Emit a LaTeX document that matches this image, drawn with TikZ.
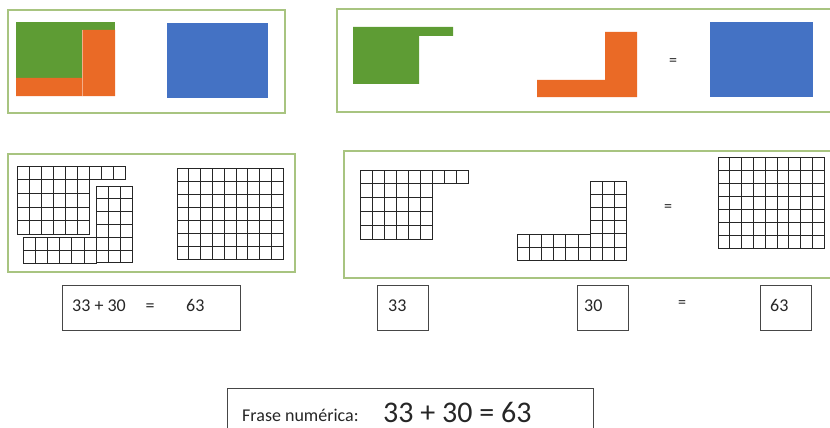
\documentclass[tikz,border=0pt]{standalone}
\usepackage{fontspec}
\setmainfont{Carlito}
\definecolor{frameg}{RGB}{168,196,128}
\definecolor{pgreen}{RGB}{94,156,52}
\definecolor{porange}{RGB}{234,106,38}
\definecolor{pblue}{RGB}{68,114,196}
\definecolor{ink}{RGB}{38,38,38}
\definecolor{boxline}{RGB}{70,70,70}
\newcommand\cellgrid[6]{%
  \foreach \i in {1,...,#3}{\foreach \j in {1,...,#4}{%
    \draw[gridline] ({#1+(\i-1)*#5},{#2+(\j-1)*#6}) rectangle ++(#5,#6);}}}
\tikzset{
  panel/.style={draw=frameg, line width=1.4pt},
  gridline/.style={draw=black!85, line width=1pt},
  numbox/.style={draw=boxline, line width=0.9pt},
  txt/.style={text=ink, font=\fontsize{18}{20}\selectfont, inner sep=0pt, anchor=base west},
  eqs/.style={text=ink, font=\fontsize{16}{18}\selectfont, inner sep=0pt},
}
\begin{document}
\begin{tikzpicture}[x=1pt,y=-1pt]
\useasboundingbox (0,0) rectangle (830,428);
% ---------- top row ----------
\draw[panel] (8,10) rectangle (285,113);
\fill[pgreen] (16,22) rectangle (115,78);
\fill[porange] (16,78) -- (82,78) -- (82,30) -- (115,30) -- (115,96) -- (16,96) -- cycle;
\draw[porange!55!white, line width=0.4pt] (82,30) -- (82,96);
\fill[pblue] (167,23) rectangle (268,98);

\draw[panel] (337,9) rectangle (840,112);
\fill[pgreen] (353,27) -- (453,27) -- (453,36) -- (419,36) -- (419,84) -- (353,84) -- cycle;
\fill[porange] (605,32) -- (637,32) -- (637,97) -- (537,97) -- (537,80) -- (605,80) -- cycle;
\node[eqs] (eqtop) at (673,62) {=};
\fill[pblue] (710,22) rectangle (813,97);

% ---------- middle row ----------
\draw[panel] (8,154) rectangle (295,272);
\cellgrid{17}{166}{9}{1}{12.1}{13.7}
\cellgrid{17}{179.7}{6}{4}{12.1}{13.7}
\cellgrid{96}{186}{3}{6}{12.3}{12.8}
\cellgrid{23}{237.2}{6}{2}{12.2}{12.9}
\cellgrid{177}{168}{9}{7}{11.8}{13.1}

\draw[panel] (344,151) rectangle (840,278);
\cellgrid{360}{170}{9}{1}{12.1}{13.8}
\cellgrid{360}{183.8}{6}{4}{12.1}{13.8}
\cellgrid{590}{181}{3}{6}{12.3}{13.2}
\cellgrid{517}{234.2}{6}{2}{12.2}{13.1}
\node[eqs] (eqmid) at (668,208) {=};
\cellgrid{718}{157}{9}{7}{11.8}{13}

% ---------- number boxes ----------
\draw[numbox] (62,285) rectangle (240,330);
\node[txt] (sum) at (72,311) {33 + 30};
\node[txt, anchor=base] (sumeq) at (150,311) {=};
\node[txt] (sumres) at (186,311) {63};

\node[numbox, minimum width=51pt, minimum height=45pt, anchor=north west] (b33) at (377,285) {};
\node[txt] (t33) at (388,311) {33};
\node[numbox, minimum width=51pt, minimum height=45pt, anchor=north west] (b30) at (577,285) {};
\node[txt] (t30) at (584,311) {30};
\node[eqs] (eqbot) at (682,304) {=};
\node[numbox, minimum width=51pt, minimum height=45pt, anchor=north west] (b63) at (760,285) {};
\node[txt] (t63) at (770,311) {63};

% ---------- frase ----------
\draw[numbox] (227,388) rectangle (593,445);
\node[txt] (frase) at (242,421) {Frase numérica:};
\node[txt, font=\fontsize{30}{32}\selectfont] (eq) at (383,422) {33 + 30 = 63};
\end{tikzpicture}
\end{document}
